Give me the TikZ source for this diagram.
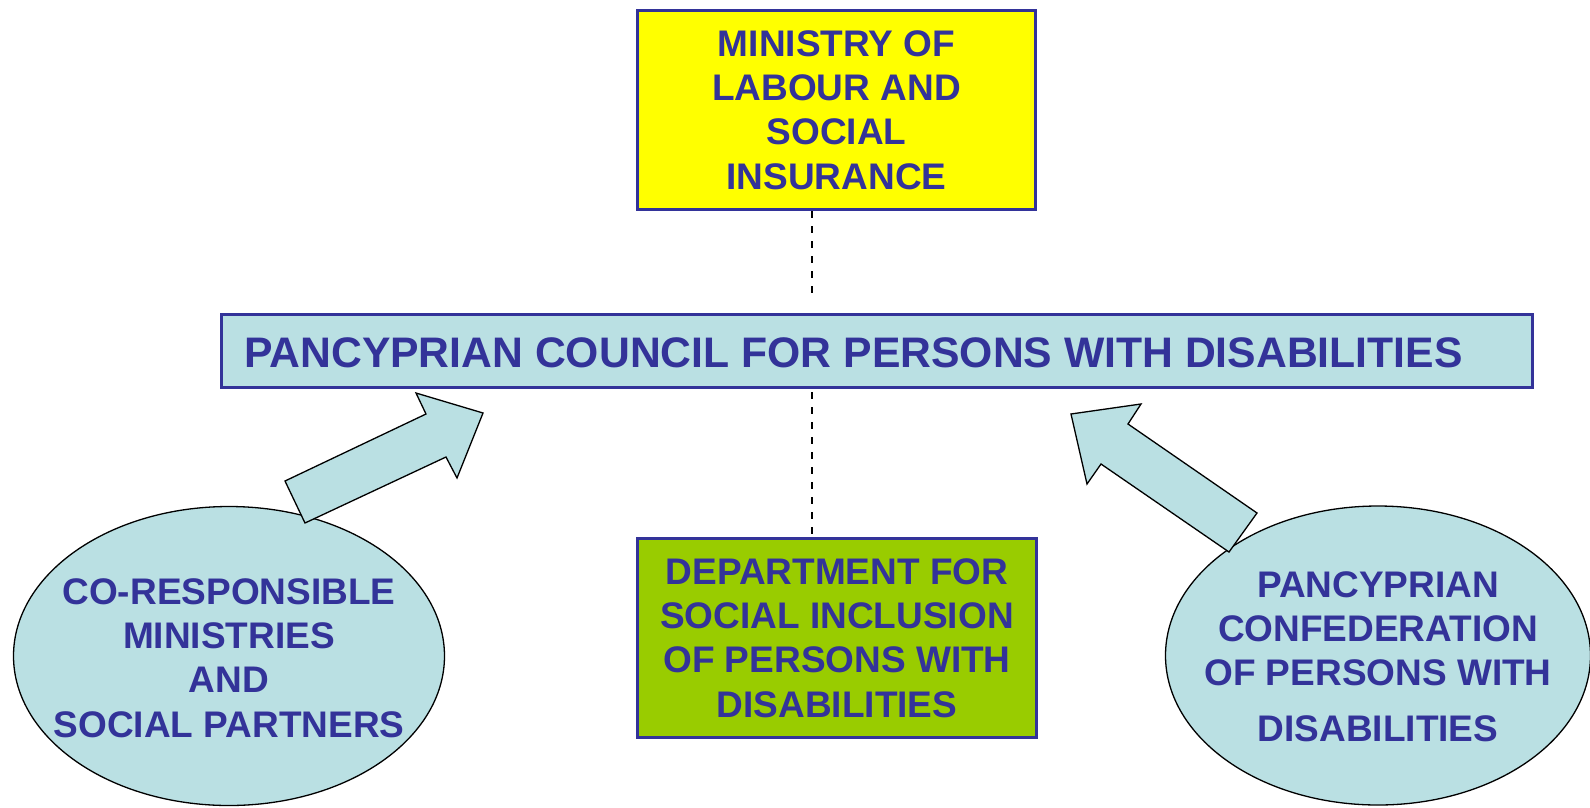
\documentclass[tikz,border=0pt]{standalone}
\usepackage{fontspec}
\setmainfont{Liberation Sans}
\usetikzlibrary{shapes.geometric}
\definecolor{navy}{RGB}{51,51,153}
\definecolor{paleblue}{RGB}{186,224,227}
\definecolor{lime}{RGB}{153,204,0}
\definecolor{yel}{RGB}{255,255,0}
\tikzset{
  boxed/.style={draw=navy, line width=3pt, rectangle, inner sep=0pt},
  blob/.style={draw=black, line width=1.3pt, ellipse, fill=paleblue, inner sep=0pt},
  txt/.style={text=navy, font=\fontsize{37}{44.4}\selectfont\bfseries, align=center, inner sep=0pt},
  bigtxt/.style={text=navy, font=\fontsize{42.7}{50}\selectfont\bfseries, inner sep=0pt},
  blockarrow/.style={draw=black, line width=1.3pt, fill=paleblue, line join=miter},
  link/.style={draw=black, line width=2pt, dash pattern=on 7pt off 8pt},
}
\begin{document}
\begin{tikzpicture}[x=1pt,y=-1pt]
\useasboundingbox (0,0) rectangle (1590,807);
\fill[white] (0,0) rectangle (1590,807);
% boxes
\node[boxed, fill=yel, minimum width=398pt, minimum height=199pt, txt] (ministry) at (836.5,110) {MINISTRY OF\\LABOUR AND\\SOCIAL\\INSURANCE};
\node[boxed, fill=paleblue, minimum width=1311pt, minimum height=73pt] (council) at (877,351) {};
\node[bigtxt, anchor=base west] (councilt) at (244,367) {PANCYPRIAN COUNCIL FOR PERSONS WITH DISABILITIES};
\node[boxed, fill=lime, minimum width=399pt, minimum height=199pt, txt] (dept) at (837,638) {DEPARTMENT FOR\\SOCIAL INCLUSION\\OF PERSONS WITH\\DISABILITIES};
% ellipses
\node[blob, minimum width=431pt, minimum height=299pt] (coresp) at (229,656) {};
\node[txt] (corespt) at ([yshift=-2pt]coresp.center) {CO-RESPONSIBLE\\MINISTRIES\\AND\\SOCIAL PARTNERS};
\node[blob, minimum width=425pt, minimum height=299pt] (confed) at (1378,655.5) {};
\node[txt] (confedt) at ([yshift=-1pt]confed.center) {PANCYPRIAN\\CONFEDERATION\\OF PERSONS WITH\\[11pt]DISABILITIES};
% block arrows
\draw[blockarrow] (285,481) -- (426,414) -- (416,393) -- (483,413) -- (457,478) -- (446,457) -- (305,523) -- cycle;
\draw[blockarrow] (1071,414) -- (1141,404) -- (1128,424) -- (1257,513) -- (1229,552) -- (1101,464) -- (1087,484) -- cycle;
% dashed links
\coordinate (d1) at (812,294);
\draw[link] (ministry.south -| d1) -- (d1);
\draw[link] ([yshift=-3pt]council.south -| d1) -- (dept.north -| d1);
\end{tikzpicture}
\end{document}
